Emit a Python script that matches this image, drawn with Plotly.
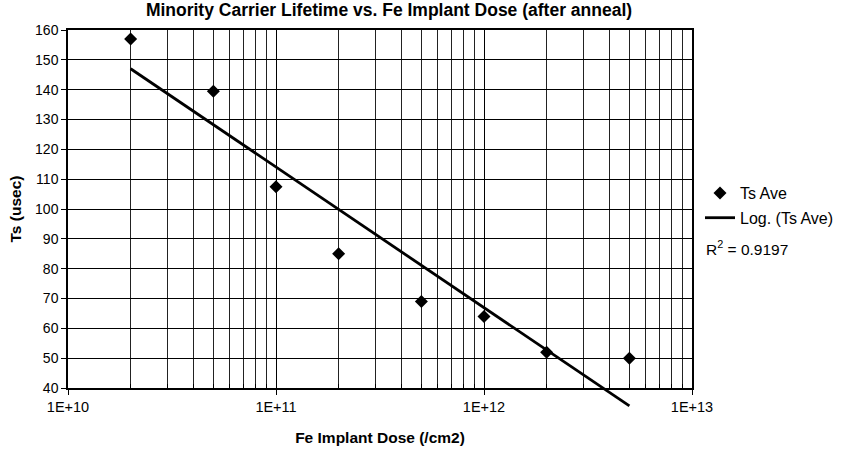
import numpy as np
import plotly.graph_objects as go

dose = [2e10, 5e10, 1e11, 2e11, 5e11, 1e12, 2e12, 5e12]
ts_ave = [157, 139.5, 107.5, 85, 69, 64, 52, 50]
x_tickvals = [1e10, 1e11, 1e12, 1e13]
x_ticktext = ["1E+10", "1E+11", "1E+12", "1E+13"]
y_tickvals = list(range(40, 161, 10))
r2_text = "R<sup>2</sup> = 0.9197"

# logarithmic trendline (least squares of y on ln x), as Excel does
lx = np.log(np.array(dose))
slope, intercept = np.polyfit(lx, np.array(ts_ave), 1)
trend_x = [dose[0], dose[-1]]
trend_y = [slope * np.log(v) + intercept for v in trend_x]

minor_vals = [m * 10 ** e for e in (10, 11, 12) for m in range(2, 10)]

FONT = "Liberation Sans, Arial, sans-serif"
W, H = 842, 456
left, right = 68, 692
top, plot_bottom, ext_bottom = 30, 388, 418
px_per_unit = (plot_bottom - top) / 120.0
y2_low = 40 - (ext_bottom - plot_bottom) / px_per_unit
dom_low = (ext_bottom - plot_bottom) / (ext_bottom - top)
pw, ph = right - left, ext_bottom - top

fig = go.Figure()
fig.add_trace(go.Scatter(
    x=dose, y=ts_ave, mode="markers", name="Ts Ave",
    marker=dict(symbol="diamond", size=10, color="black"),
    legendgroup="a", xaxis="x", yaxis="y", cliponaxis=False))
fig.add_trace(go.Scatter(
    x=trend_x, y=trend_y, mode="lines", name="Log. (Ts Ave)",
    line=dict(color="black", width=2.8),
    legendgroup="b", xaxis="x2", yaxis="y2"))

fig.update_layout(
    width=W, height=H,
    margin=dict(l=left, r=W - right, t=top, b=H - ext_bottom, autoexpand=False),
    paper_bgcolor="white", plot_bgcolor="rgba(0,0,0,0)",
    font=dict(family=FONT, size=14, color="black"),
    title=dict(text="<b>Minority Carrier Lifetime vs. Fe Implant Dose (after anneal)</b>",
               x=389 / W, xanchor="center", y=1 - 10 / H, yanchor="middle",
               font=dict(size=17.5, family=FONT)),
    xaxis=dict(type="log", range=[10, 13], tickvals=x_tickvals, ticktext=x_ticktext,
               showgrid=True, gridcolor="black", gridwidth=1,
               minor=dict(tickvals=minor_vals, showgrid=True, gridcolor="#222", gridwidth=1,
                          ticks="inside", ticklen=4, tickcolor="black"),
               showline=True, linecolor="black", linewidth=1.5, mirror=True,
               ticks="outside", ticklen=5, tickcolor="black", tickfont=dict(size=14.5),
               anchor="y", zeroline=False,
               title=dict(text="<b>Fe Implant Dose (/cm2)</b>", font=dict(size=15.5), standoff=18)),
    yaxis=dict(range=[40, 160], tickvals=y_tickvals, domain=[dom_low, 1],
               showgrid=True, gridcolor="black", gridwidth=1,
               showline=True, linecolor="black", linewidth=1.5, mirror=True,
               ticks="outside", ticklen=5, tickcolor="black", zeroline=False,
               tickfont=dict(size=14),
               title=dict(text="<b>Ts (usec)</b>", font=dict(size=15.5), standoff=10)),
    xaxis2=dict(type="log", range=[10, 13], visible=False, anchor="y2", domain=[0, 1]),
    yaxis2=dict(range=[y2_low, 160], domain=[0, 1], visible=False, anchor="x2"),
    legend=dict(x=(700 - left) / pw, xanchor="left", y=(ext_bottom - 176) / ph, yanchor="top",
                traceorder="grouped", tracegroupgap=1, font=dict(size=16),
                bgcolor="rgba(0,0,0,0)", itemwidth=30, borderwidth=0),
    showlegend=True,
)

fig.add_annotation(text=r2_text, xref="paper", yref="paper",
                   x=(704 - left) / pw, xanchor="left",
                   y=(ext_bottom - 248) / ph, yanchor="middle",
                   showarrow=False, font=dict(size=15.5, family=FONT))

fig.write_html("out.html")
